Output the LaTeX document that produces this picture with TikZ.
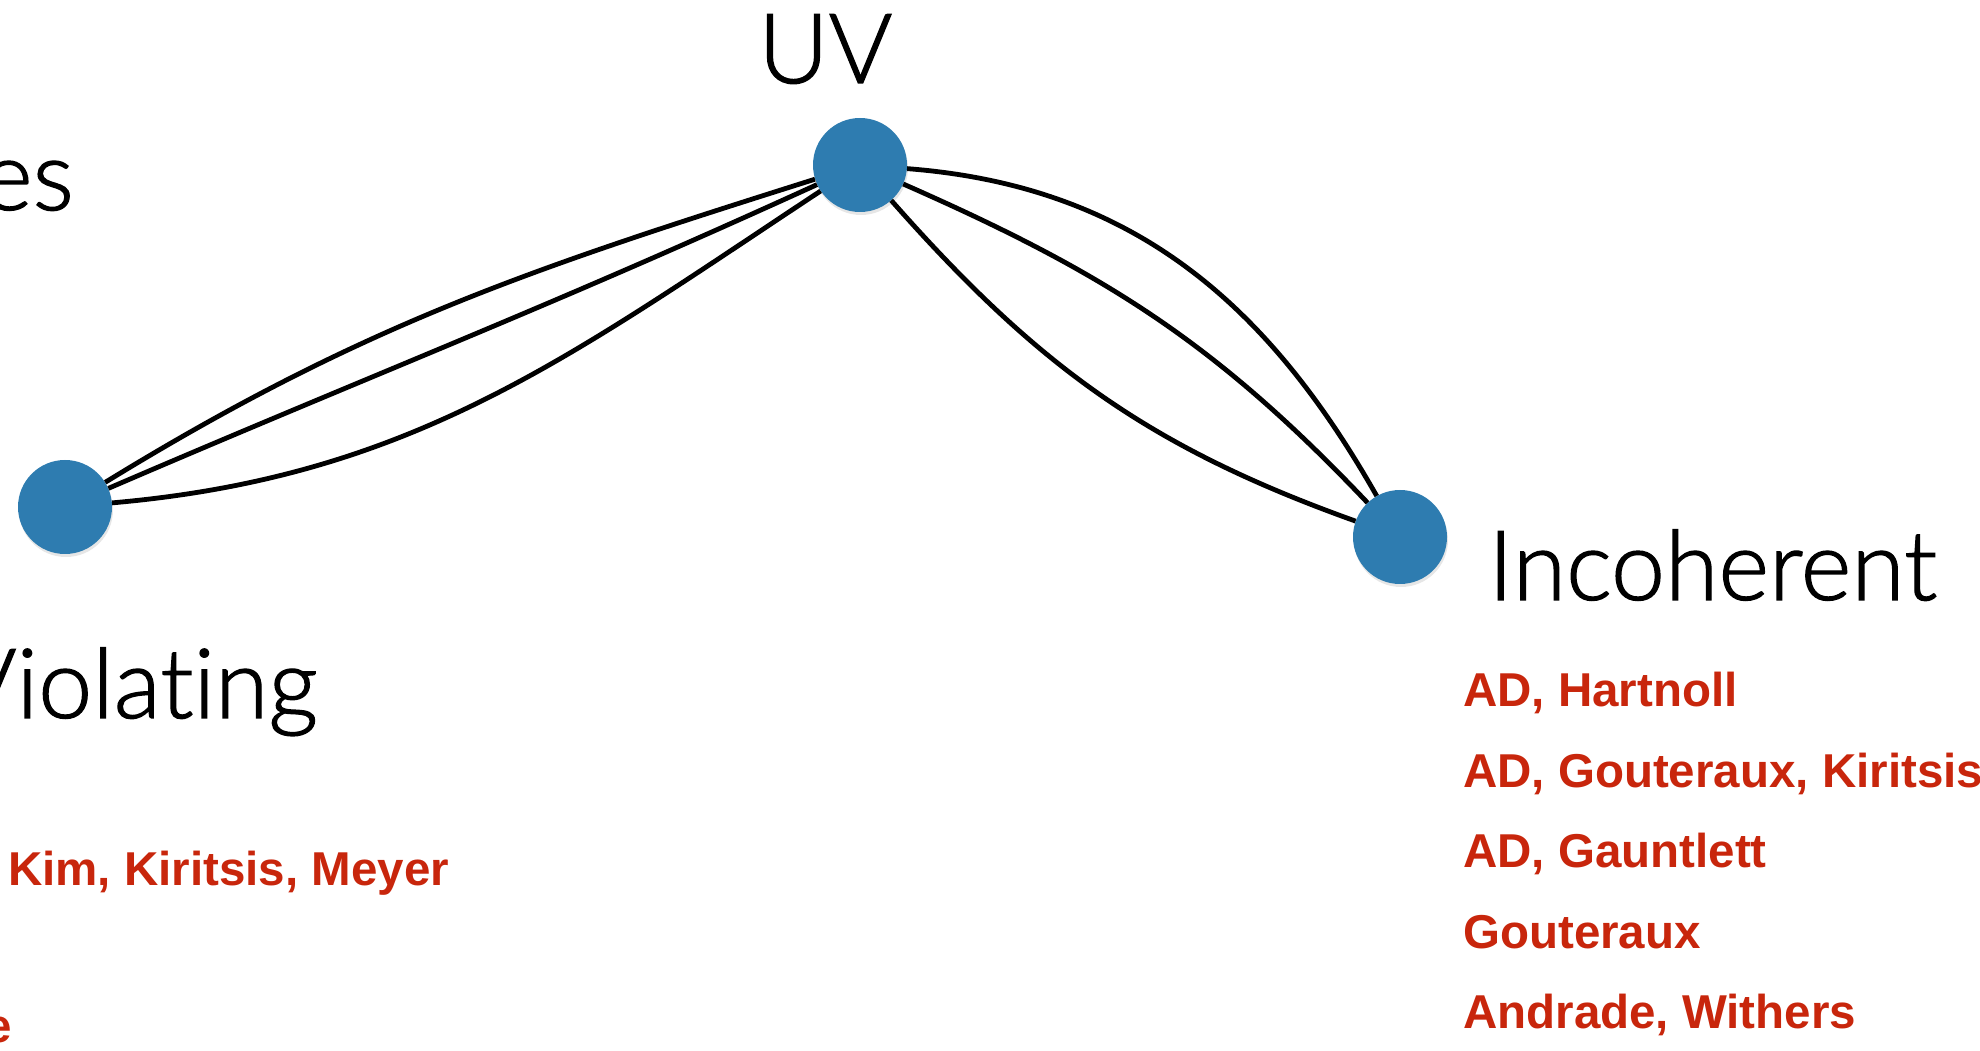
\documentclass[tikz,border=0pt]{standalone}
\usepackage{fontspec}
\setmainfont{Liberation Sans}
\newfontfamily\thinfont{Lato Light}[Ligatures=NoCommon, FakeBold=1.3]
\usetikzlibrary{shadows}
\definecolor{dotblue}{RGB}{46,124,176}
\definecolor{refred}{RGB}{200,38,12}
\begin{document}
\begin{tikzpicture}[x=1pt,y=1pt,
  vertex/.style={circle, fill=dotblue, minimum size=94pt, inner sep=0pt,
    drop shadow={shadow xshift=1pt, shadow yshift=-3pt, opacity=0.2}},
  link/.style={line width=4.8pt, black},
  heading/.style={font=\thinfont\fontsize{97}{97}\selectfont, inner sep=0pt, text=black},
  ref/.style={font=\bfseries\fontsize{47.5}{47.5}\selectfont, text=refred, inner sep=0pt, anchor=base west}]
\useasboundingbox (0,0) rectangle (1980,1050);

% the three vertices
\node[vertex] (L) at (65,543) {};
\node[vertex] (U) at (860,885) {};
\node[vertex] (R) at (1400,513) {};

% links between the vertices
\draw[link] (L) to[out=31.6,in=197.6] (U);
\draw[link] (L) to[out=23.3,in=204.6] (U);
\draw[link] (L) to[out=5,in=213.5] (U);
\draw[link] (U) to[out=-4.5,in=119.7] (R);
\draw[link] (U) to[out=-23.9,in=133.6] (R);
\draw[link] (U) to[out=-48.7,in=160.4] (R);

% vertex labels
\node[heading, anchor=base west] (uv) at (758,967) {UV};
\node[heading, anchor=base east] (es) at (74,840) {es};
\node[heading, anchor=base east] (viol) at (318,332) {Violat\kern0pt ing};
\node[heading, anchor=base west] (inc) at (1488,450) {Incoherent};

% references
\node[ref] (r1) at (1463,343) {AD, Hartnoll};
\node[ref] (r2) at (1463,263) {AD, Gouteraux, Kiritsis};
\node[ref] (r3) at (1463,183) {AD, Gauntlett};
\node[ref] (r4) at (1463,102) {Gouteraux};
\node[ref] (r5) at (1463,22) {Andrade, Withers};
\node[ref] (r6) at (8,165) {Kim, Kiritsis, Meyer};
\node[ref, anchor=base east] (r7) at (12,8) {e};
\end{tikzpicture}
\end{document}
